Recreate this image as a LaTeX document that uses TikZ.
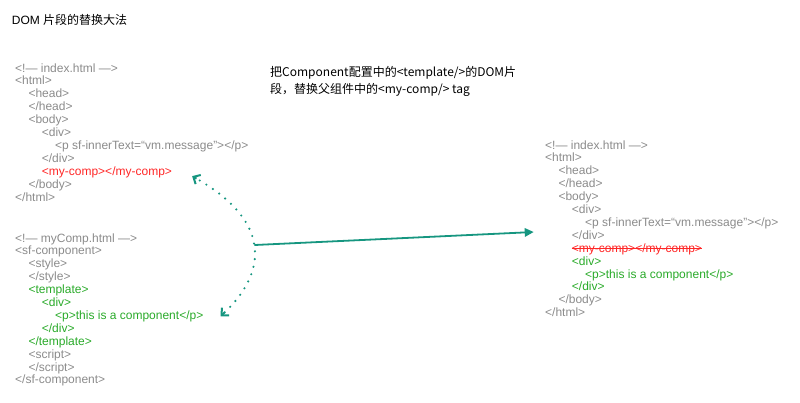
\documentclass[tikz,border=0pt]{standalone}
\usepackage{fontspec}
\setmainfont{Liberation Sans}
\newfontfamily\cjk{Noto Sans CJK SC}
\usetikzlibrary{positioning,arrows.meta,calc}
\definecolor{tagGray}{RGB}{139,139,139}
\definecolor{slotRed}{RGB}{255,38,38}
\definecolor{tmplGreen}{RGB}{41,170,41}
\definecolor{linkTeal}{RGB}{22,150,128}
\tikzset{
  codeline/.style={anchor=base west, inner sep=0pt, text=tagGray, font=\fontsize{12}{13}\selectfont},
  slotline/.style={codeline, text=slotRed},
  tmplline/.style={codeline, text=tmplGreen},
  noteline/.style={anchor=base west, inner sep=0pt, font=\fontsize{12}{14}\selectfont},
  strike/.style={draw=slotRed, line width=0.9pt},
  moveline/.style={-{Triangle[length=9pt,width=8.5pt]}, line width=1.8pt, draw=linkTeal},
  pairline/.style={line width=2.4pt, line cap=round, dash pattern=on 0pt off 7.8pt, draw=linkTeal},
  barbtip/.style={-{Straight Barb[length=5.5pt,width=10.5pt,line width=2pt]}, line width=2pt, draw=linkTeal},
}

\begin{document}
\begin{tikzpicture}[x=1pt, y=-1pt]
\useasboundingbox (0,0) rectangle (800,402);

%Title and note
\node[noteline] (title) at (11.7,24.5) {DOM \cjk{片段的替换大法}};
\node[noteline] (note1) at (270,76.5) {\cjk{把}Component\cjk{配置中的}<template/>\cjk{的}DOM\cjk{片}};
\node[noteline] (note2) at (270,93.5) {\cjk{段，替换父组件中的}<my-comp/> tag};

%Parent page
\node[codeline] (a1) at (15,72) {<!— index.html —>};
\node[codeline] (a2) at (15,84.9) {<html>};
\node[codeline] (a3) at (28.3,97.8) {<head>};
\node[codeline] (a4) at (28.3,110.7) {</head>};
\node[codeline] (a5) at (28.3,123.6) {<body>};
\node[codeline] (a6) at (41.7,136.5) {<div>};
\node[codeline] (a7) at (55,149.4) {<p sf-innerText=“vm.message”></p>};
\node[codeline] (a8) at (41.7,162.3) {</div>};
\node[slotline] (a9) at (41.7,175.2) {<my-comp></my-comp>};
\node[codeline] (a10) at (28.3,188.1) {</body>};
\node[codeline] (a11) at (15,201) {</html>};

%Component file
\node[codeline] (b1) at (15,242) {<!— myComp.html —>};
\node[codeline] (b2) at (15,254.9) {<sf-component>};
\node[codeline] (b3) at (28.3,267.8) {<style>};
\node[codeline] (b4) at (28.3,280.7) {</style>};
\node[tmplline] (b5) at (28.3,293.6) {<template>};
\node[tmplline] (b6) at (41.7,306.5) {<div>};
\node[tmplline] (b7) at (55,319.4) {<p>this is a component</p>};
\node[tmplline] (b8) at (41.7,332.3) {</div>};
\node[tmplline] (b9) at (28.3,345.2) {</template>};
\node[codeline] (b10) at (28.3,358.1) {<script>};
\node[codeline] (b11) at (28.3,371) {</script>};
\node[codeline] (b12) at (15,383.9) {</sf-component>};

%Result page
\node[codeline] (c1) at (545,149) {<!— index.html —>};
\node[codeline] (c2) at (545,161.9) {<html>};
\node[codeline] (c3) at (558.3,174.8) {<head>};
\node[codeline] (c4) at (558.3,187.7) {</head>};
\node[codeline] (c5) at (558.3,200.6) {<body>};
\node[codeline] (c6) at (571.7,213.5) {<div>};
\node[codeline] (c7) at (585,226.4) {<p sf-innerText=“vm.message”></p>};
\node[codeline] (c8) at (571.7,239.3) {</div>};
\node[slotline] (c9) at (571.7,252.2) {<my-comp></my-comp>};
\node[tmplline] (c10) at (571.7,265.1) {<div>};
\node[tmplline] (c11) at (585,278) {<p>this is a component</p>};
\node[tmplline] (c12) at (571.7,290.9) {</div>};
\node[codeline] (c13) at (558.3,303.8) {</body>};
\node[codeline] (c14) at (545,316.7) {</html>};
\draw[strike] ([yshift=0.5pt]c9.west) -- ([yshift=0.5pt]c9.east);

%Lines
\coordinate (lo) at ([xshift=17pt]b7.east);
\coordinate (hi) at ([shift={(20,4)}]a9.east);
\draw[pairline] ($(lo)+(4.2,-4)$) .. controls +(38,-36) and +(80,46) .. ($(hi)+(4.4,2.5)$)
  coordinate[pos=0.53] (kink);
\draw[barbtip] ($(lo)+(4.2,-4)$) -- (lo);
\draw[barbtip] ($(hi)+(4.4,2.5)$) -- (hi);
\draw[moveline] (kink) -- ([shift={(-38,-3)}]c8.west);
\end{tikzpicture}
\end{document}
